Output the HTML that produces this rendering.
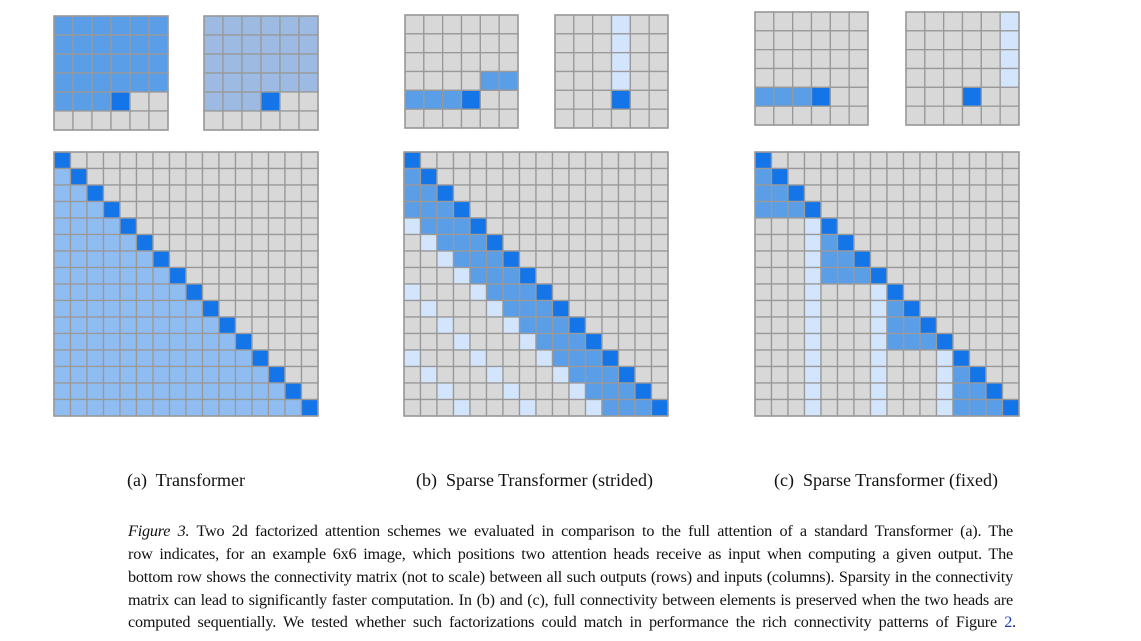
<!DOCTYPE html>
<html><head><meta charset="utf-8">
<style>
body{margin:0;width:1141px;height:641px;background:#fff;overflow:hidden;position:relative;font-family:"Liberation Serif",serif;}
svg{position:absolute;left:0;top:0}
.cap{position:absolute;font-size:18px;color:#111;white-space:nowrap}
.ln{position:absolute;left:128px;width:885px;font-size:16.2px;letter-spacing:-0.2px;text-align:justify;text-align-last:justify;white-space:nowrap;color:#111;line-height:20px}
.ln.last{width:888px}
a{color:#1a3fb0;text-decoration:none}
</style></head><body>
<svg id="s" width="1141" height="641"></svg>
<div class="cap" style="left:127px;top:470px">(a)&nbsp; Transformer</div>
<div class="cap" style="left:416px;top:470px">(b)&nbsp; Sparse Transformer (strided)</div>
<div class="cap" style="left:774px;top:470px">(c)&nbsp; Sparse Transformer (fixed)</div>
<div class="ln" style="top:521px"><i>Figure 3.</i> Two 2d factorized attention schemes we evaluated in comparison to the full attention of a standard Transformer (a). The</div>
<div class="ln" style="top:544px">row indicates, for an example 6x6 image, which positions two attention heads receive as input when computing a given output. The</div>
<div class="ln" style="top:567px">bottom row shows the connectivity matrix (not to scale) between all such outputs (rows) and inputs (columns). Sparsity in the connectivity</div>
<div class="ln" style="top:590px">matrix can lead to significantly faster computation. In (b) and (c), full connectivity between elements is preserved when the two heads are</div>
<div class="ln last" style="top:612px">computed sequentially. We tested whether such factorizations could match in performance the rich connectivity patterns of Figure <a>2</a>.</div>
<script>
const s=document.getElementById('s');
const D='#1375e8',M='#5b9ee8',L='#d3e5fd',A='#8fbdf2',P='#9dbbe2',G='#d8d8d8';
function grid(x,y,size,n,f){
  const c=size/n;let h='';
  for(let i=0;i<n;i++)for(let j=0;j<n;j++){
    h+=`<rect x="${x+j*c}" y="${y+i*c}" width="${c}" height="${c}" fill="${f(i,j)}" stroke="#999" stroke-width="1.3"/>`;
  }
  h+=`<rect x="${x}" y="${y}" width="${size}" height="${size}" fill="none" stroke="#999" stroke-width="1.5"/>`;
  s.insertAdjacentHTML('beforeend',h);
}
grid(54,16,114,6,(i,j)=>{if(i==4&&j==3)return D;if(i<4||(i==4&&j<3))return M;return G;});
grid(204,16,114,6,(i,j)=>{if(i==4&&j==3)return D;if(i<4||(i==4&&j<3))return P;return G;});
grid(405,15,113,6,(i,j)=>{if(i==4&&j==3)return D;if(i==4&&j<3)return M;if(i==3&&j>3)return M;return G;});
grid(555,15,113,6,(i,j)=>{if(i==4&&j==3)return D;if(i<4&&j==3)return L;return G;});
grid(755,12,113,6,(i,j)=>{if(i==4&&j==3)return D;if(i==4&&j<3)return M;return G;});
grid(906,12,113,6,(i,j)=>{if(i==4&&j==3)return D;if(i<4&&j==5)return L;return G;});
grid(54,152,264,16,(i,j)=>i==j?D:(j<i?A:G));
grid(404,152,264,16,(i,j)=>{if(i==j)return D;if(j<i&&i-j<=3)return M;if(j<i&&(i-j)%4==0)return L;return G;});
grid(755,152,264,16,(i,j)=>{if(i==j)return D;if(j<i&&Math.floor(i/4)==Math.floor(j/4))return M;if(j<i&&j%4==3)return L;return G;});
</script>
</body></html>
